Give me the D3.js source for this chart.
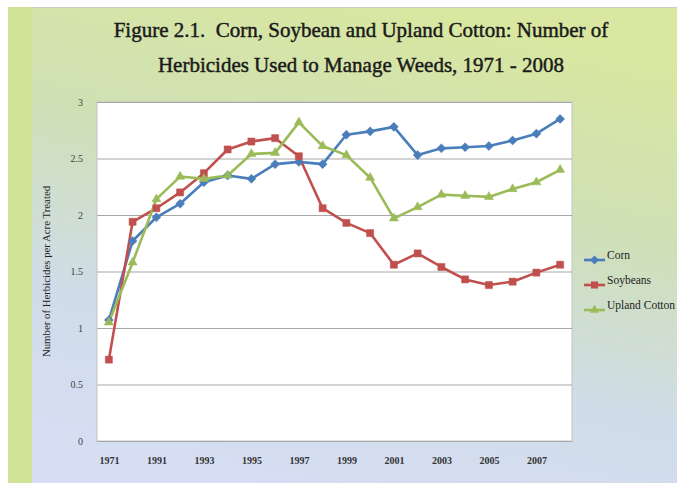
<!DOCTYPE html>
<html><head><meta charset="utf-8">
<script src="https://cdn.jsdelivr.net/npm/d3@7"></script>
<style>html,body{margin:0;padding:0;background:#fff;}svg{display:block;}</style>
</head><body>
<svg id="c" width="677" height="485"></svg>
<script>
const years = ["1971","1990","1991","1992","1993","1994","1995","1996","1997","1998","1999","2000","2001","2002","2003","2004","2005","2006","2007","2008"];
const xTickLabels = ["1971","1991","1993","1995","1997","1999","2001","2003","2005","2007"];
const yTicks = [0,0.5,1,1.5,2,2.5,3];
const corn = [1.07,1.77,1.98,2.10,2.29,2.35,2.32,2.45,2.47,2.45,2.71,2.74,2.78,2.53,2.59,2.60,2.61,2.66,2.72,2.85];
const soybeans = [0.72,1.94,2.06,2.20,2.37,2.58,2.65,2.68,2.52,2.06,1.93,1.84,1.56,1.66,1.54,1.43,1.38,1.41,1.49,1.56];
const cotton = [1.05,1.58,2.14,2.34,2.32,2.35,2.54,2.55,2.82,2.61,2.53,2.33,1.97,2.07,2.18,2.17,2.16,2.23,2.29,2.40];
const seriesNames = ["Corn","Soybeans","Upland Cotton"];
const titleLines = ["Figure 2.1.  Corn, Soybean and Upland Cotton: Number of","Herbicides Used to Manage Weeds, 1971 - 2008"];
const yLabel = "Number of Herbicides per Acre Treated";

const svg = d3.select("#c");
const serif = "'Liberation Serif','DejaVu Serif',serif";
const defs = svg.append("defs");
const g1 = defs.append("linearGradient").attr("id","bg").attr("x1","0.6").attr("y1","0").attr("x2","0.3").attr("y2","1");
g1.append("stop").attr("offset","0").attr("stop-color","#d9e7a0");
g1.append("stop").attr("offset","0.35").attr("stop-color","#cfe0b6");
g1.append("stop").attr("offset","0.7").attr("stop-color","#d0dce9");
g1.append("stop").attr("offset","1").attr("stop-color","#d6def3");

// backgrounds
svg.append("rect").attr("x",8).attr("y",7).attr("width",24).attr("height",476).attr("fill","#d0e295");
svg.append("rect").attr("x",32).attr("y",7).attr("width",645).attr("height",476).attr("fill","url(#bg)");
svg.append("line").attr("x1",32).attr("x2",677).attr("y1",7.5).attr("y2",7.5).attr("stroke","#c8cfc0").attr("stroke-width",1);

// title
svg.append("g").selectAll("text").data(titleLines).join("text")
  .attr("x",361).attr("y",(d,i)=>37+i*35).attr("text-anchor","middle")
  .attr("xml:space","preserve").style("white-space","pre")
  .attr("font-family",serif).attr("font-size",21).attr("fill","#1a1a1a")
  .attr("stroke","#1a1a1a").attr("stroke-width",0.45)
  .text(d=>d);

const m = {l:97,r:572,t:102,b:441};
const x = d3.scalePoint().domain(years).range([m.l,m.r]).padding(0.5);
const y = d3.scaleLinear().domain([0,3]).range([m.b,m.t]);

svg.append("rect").attr("x",m.l).attr("y",m.t).attr("width",m.r-m.l).attr("height",m.b-m.t).attr("fill","#fff").attr("stroke","#c4c4c4");

// grid
const yAxis = d3.axisLeft(y).tickValues(yTicks).tickSize(-(m.r-m.l)).tickFormat(d3.format("~g")).tickPadding(14);
const ya = svg.append("g").attr("transform",`translate(${m.l},0)`).call(yAxis);
ya.select(".domain").remove();
ya.selectAll(".tick line").attr("stroke","#a8a8a8").attr("stroke-width",1.2);
ya.selectAll(".tick text").attr("font-family",serif).attr("font-size",10).attr("fill","#404040");

const xAxis = d3.axisBottom(x).tickValues(xTickLabels).tickSize(0).tickPadding(16);
const xa = svg.append("g").attr("transform",`translate(0,${m.b})`).call(xAxis);
xa.select(".domain").attr("stroke","#a8a8a8");
xa.selectAll(".tick text").attr("font-family",serif).attr("font-size",10).attr("font-weight","bold").attr("fill","#333");

svg.append("text").attr("transform",`translate(50,${(m.t+m.b)/2}) rotate(-90)`).attr("text-anchor","middle")
  .attr("font-family",serif).attr("font-size",10.8).attr("fill","#222").text(yLabel);

const colors = ["#4a7ebb","#c0504d","#9bbb59"];
const symbols = [d3.symbolDiamond2, d3.symbolSquare2, d3.symbolTriangle2];
const symSize = [52,64,60];
const data = [corn,soybeans,cotton];
const line = d3.line().x((d,i)=>x(years[i])).y(d=>y(d));

data.forEach((vals,si)=>{
  svg.append("path").datum(vals).attr("d",line).attr("fill","none").attr("stroke",colors[si]).attr("stroke-width",2.6).attr("stroke-linejoin","round");
});
data.forEach((vals,si)=>{
  svg.append("g").selectAll("path").data(vals).join("path")
    .attr("transform",(d,i)=>`translate(${x(years[i])},${y(d)})`)
    .attr("d",d3.symbol(symbols[si],symSize[si])).attr("fill",colors[si]).attr("stroke",colors[si]).attr("stroke-width",0.5);
});

// legend
const lg = svg.append("g");
seriesNames.forEach((n,i)=>{
  const yy = 260 + i*25;
  lg.append("line").attr("x1",584).attr("x2",605).attr("y1",yy).attr("y2",yy).attr("stroke",colors[i]).attr("stroke-width",2.6);
  lg.append("path").attr("transform",`translate(594.5,${yy})`).attr("d",d3.symbol(symbols[i],symSize[i])).attr("fill",colors[i]);
  lg.append("text").attr("x",607).attr("y",yy-1).attr("font-family",serif).attr("font-size",11.5).attr("fill","#222").text(n);
});
</script>
</body></html>
